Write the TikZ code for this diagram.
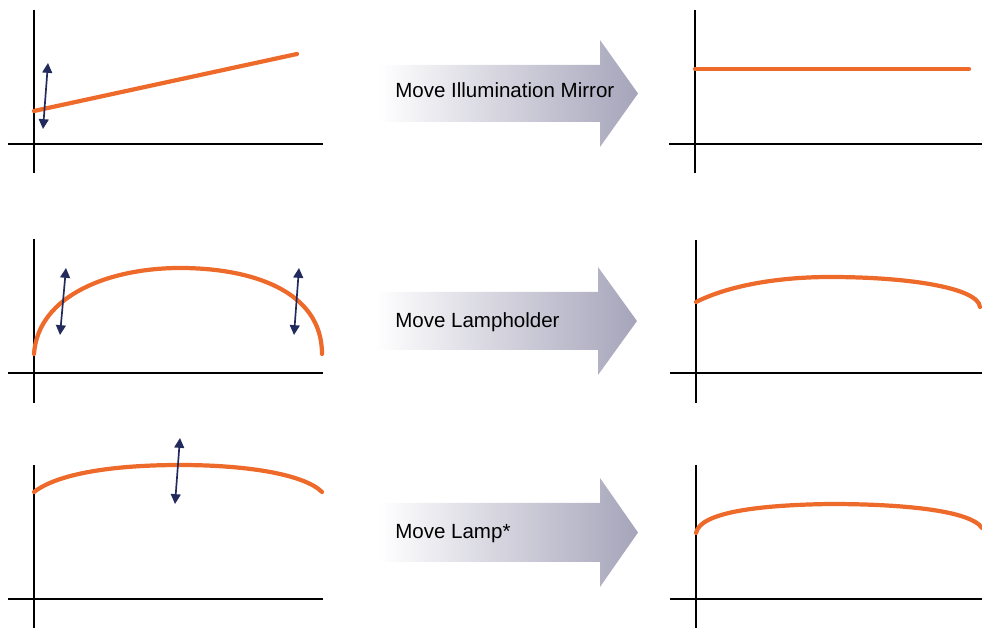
\documentclass[tikz,border=0pt]{standalone}
\usepackage{fontspec}
\setmainfont{Liberation Sans}
\usetikzlibrary{arrows.meta}
\definecolor{traceorange}{RGB}{238,106,43}
\definecolor{nudgenavy}{RGB}{35,43,92}
\definecolor{arrowgray}{RGB}{166,164,186}

\begin{document}
\begin{tikzpicture}[x=0.025cm, y=-0.025cm,
  axis/.style={line width=1.4pt, black},
  trace/.style={line width=3pt, traceorange, line cap=round},
  nudge/.style={line width=1.2pt, nudgenavy, {Triangle[length=7pt,width=7pt]}-{Triangle[length=7pt,width=7pt]}},
  bigarrow/.style={left color=white, right color=arrowgray, draw=none},
  movelabel/.style={anchor=base west, inner sep=0pt, font=\fontsize{14.6}{17}\selectfont}]
  \useasboundingbox (0,0) rectangle (982,628);
  \draw[axis] (34,10) -- (34,173);
  \draw[axis] (8,144) -- (323,144);
  \draw[trace] (34,111) -- (297,54);
  \draw[nudge] (48,63) -- (43,129);
  \shade[bigarrow] (378,65) -- (600,65) -- (600,40) -- (638,93.5) -- (600,147) -- (600,122) -- (378,122) -- cycle;
  \node[movelabel] (mirror) at (395,98) {Move Illumination Mirror};
  \draw[axis] (695,10) -- (695,173);
  \draw[axis] (669,144) -- (982,144);
  \draw[trace] (695,69) -- (969,69);
  \draw[axis] (34,239) -- (34,403);
  \draw[axis] (8,373) -- (323,373);
  \draw[trace] (34,354) .. controls (38,295) and (110,268) .. (180,268)
    .. controls (250,268) and (322,290) .. (322,354);
  \draw[nudge] (66,268) -- (60,335);
  \draw[nudge] (299,268) -- (294,335);
  \shade[bigarrow] (375,292) -- (598,292) -- (598,267) -- (637,321) -- (598,375) -- (598,350) -- (375,350) -- cycle;
  \node[movelabel] (lampholder) at (395,328) {Move Lampholder};
  \draw[axis] (696,240) -- (696,403);
  \draw[axis] (670,373) -- (982,373);
  \draw[trace] (696,302) .. controls (730,285) and (780,277) .. (830,277)
    .. controls (910,277) and (978,288) .. (980,307);
  \draw[axis] (34,465) -- (34,628);
  \draw[axis] (8,599) -- (323,599);
  \draw[trace] (34,492) .. controls (60,472) and (120,465) .. (180,465)
    .. controls (250,465) and (305,475) .. (322,492);
  \draw[nudge] (180,438) -- (175,504);
  \shade[bigarrow] (378,503) -- (600,503) -- (600,478) -- (638,532.5) -- (600,587) -- (600,562) -- (378,562) -- cycle;
  \node[movelabel] (lamp) at (395,539) {Move Lamp*};
  \draw[axis] (696,465) -- (696,628);
  \draw[axis] (670,599) -- (982,599);
  \draw[trace] (696,533) .. controls (700,512) and (760,505) .. (830,504)
    .. controls (900,504) and (970,510) .. (982,528);
\end{tikzpicture}
\end{document}
